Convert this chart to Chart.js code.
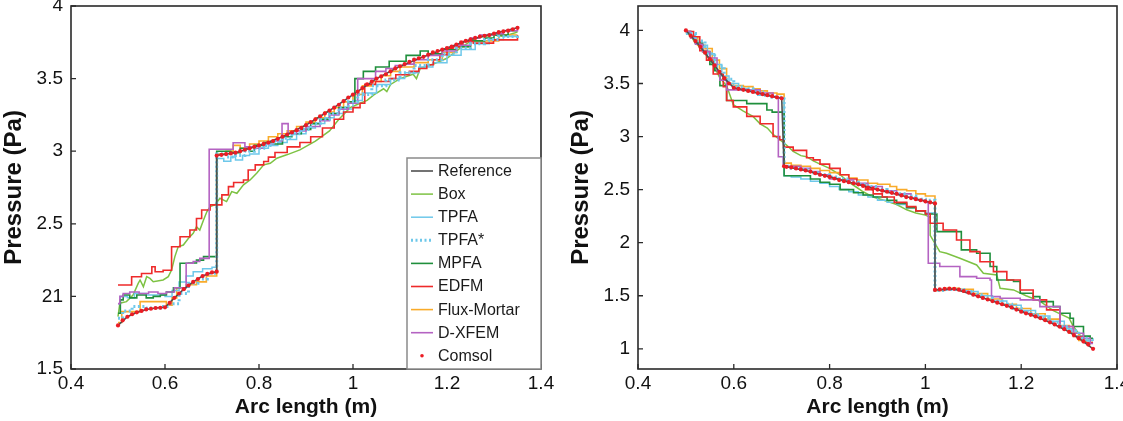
<!DOCTYPE html>
<html><head><meta charset="utf-8">
<script src="https://cdn.jsdelivr.net/npm/chart.js@4.4.1/dist/chart.umd.min.js"></script>
<style>
html,body{margin:0;padding:0;background:#fff;overflow:hidden;}
#wrap{position:relative;width:1123px;height:421px;overflow:hidden;background:#fff;}
#c1{position:absolute;left:0;top:-30px;}
#c2{position:absolute;left:560px;top:-30px;}
</style></head><body>
<div id="wrap"><canvas id="c1" width="560" height="451"></canvas><canvas id="c2" width="600" height="451"></canvas></div>
<script>
// ---------- tick labels ----------
const xTicks = [0.4, 0.6, 0.8, 1, 1.2, 1.4];
const xTickLabels = ['0.4', '0.6', '0.8', '1', '1.2', '1.4'];
const leftYTicks = [1.5, 2, 2.5, 3, 3.5, 4];
const leftYTickLabels = ['1.5', '21', '2.5', '3', '3.5', '4'];
const rightYTicks = [1, 1.5, 2, 2.5, 3, 3.5, 4];
const rightYTickLabels = ['1', '1.5', '2', '2.5', '3', '3.5', '4'];
const seriesNames = ['Reference', 'Box', 'TPFA', 'TPFA*', 'MPFA', 'EDFM', 'Flux-Mortar', 'D-XFEM', 'Comsol'];

// ---------- LEFT panel data ----------
const leftRefX = [0.50,0.52,0.54,0.56,0.58,0.60,0.62,0.64,0.66,0.68,0.70,0.71,0.71,0.75,0.80,0.85,0.90,0.95,1.00,1.05,1.10,1.15,1.20,1.25,1.30,1.35];
const leftRefY = [1.80,1.86,1.89,1.91,1.92,1.925,1.99,2.05,2.10,2.14,2.165,2.17,2.97,2.99,3.04,3.10,3.18,3.28,3.39,3.50,3.585,3.65,3.71,3.77,3.81,3.85];

const leftComsolX = [0.50,0.51,0.52,0.53,0.54,0.55,0.56,0.57,0.58,0.59,0.60,0.61,0.62,0.63,0.64,0.65,0.66,0.67,0.68,0.69,0.70,0.71,
  0.71,0.72,0.73,0.74,0.75,0.76,0.77,0.78,0.79,0.80,0.81,0.82,0.83,0.84,0.85,0.86,0.87,0.88,0.89,0.90,0.91,0.92,0.93,0.94,0.95,0.96,0.97,0.98,0.99,1.00,
  1.01,1.02,1.03,1.04,1.05,1.06,1.07,1.08,1.09,1.10,1.11,1.12,1.13,1.14,1.15,1.16,1.17,1.18,1.19,1.20,1.21,1.22,1.23,1.24,1.25,1.26,1.27,1.28,1.29,1.30,1.31,1.32,1.33,1.34,1.35];
const leftComsolY = [1.80,1.835,1.86,1.877,1.89,1.90,1.91,1.915,1.92,1.922,1.925,1.955,1.99,2.02,2.05,2.075,2.10,2.12,2.14,2.155,2.165,2.17,
  2.97,2.975,2.98,2.985,2.99,3.00,3.01,3.02,3.03,3.04,3.05,3.06,3.07,3.085,3.10,3.115,3.13,3.145,3.16,3.18,3.20,3.22,3.24,3.26,3.28,3.30,3.32,3.345,3.37,3.39,
  3.41,3.435,3.46,3.48,3.50,3.515,3.53,3.55,3.57,3.585,3.60,3.615,3.63,3.64,3.65,3.665,3.68,3.69,3.70,3.71,3.72,3.735,3.75,3.76,3.77,3.78,3.79,3.795,3.80,3.81,3.82,3.825,3.83,3.84,3.85];

const leftBoxX = [0.50,0.504,0.518,0.532,0.543,0.547,0.554,0.561,0.568,0.575,0.596,0.607,0.614,0.621,0.628,0.639,0.65,0.66,0.667,0.674,0.682,0.689,0.696,0.706,0.717,0.731,0.742,0.753,0.767,0.781,0.795,0.81,0.824,0.838,0.859,0.887,0.92,0.95,0.97,0.994,1.015,1.03,1.045,1.065,1.072,1.08,1.1,1.128,1.135,1.143,1.171,1.2,1.228,1.256,1.277,1.30,1.32,1.34,1.35];
const leftBoxY = [1.86,1.953,1.964,2.01,2.09,2.113,2.067,2.136,2.124,2.101,2.113,2.136,2.182,2.274,2.342,2.354,2.40,2.434,2.48,2.457,2.526,2.583,2.618,2.63,2.676,2.653,2.722,2.71,2.768,2.802,2.848,2.906,2.917,2.952,2.975,3.009,3.07,3.14,3.22,3.30,3.33,3.35,3.39,3.43,3.41,3.46,3.50,3.53,3.50,3.57,3.60,3.64,3.71,3.77,3.79,3.80,3.79,3.81,3.82];

const leftEdfmX = [0.50,0.529,0.55,0.572,0.579,0.596,0.614,0.632,0.653,0.667,0.678,0.696,0.721,0.735,0.746,0.767,0.777,0.792,0.81,0.82,0.834,0.86,0.887,0.91,0.935,0.96,0.98,1.0,1.015,1.025,1.048,1.077,1.091,1.12,1.14,1.157,1.171,1.185,1.2,1.213,1.228,1.234,1.256,1.299,1.35];
const leftEdfmY = [2.078,2.135,2.158,2.204,2.17,2.18,2.342,2.411,2.457,2.537,2.595,2.63,2.699,2.756,2.784,2.802,2.871,2.906,2.929,2.959,2.991,3.03,3.06,3.10,3.16,3.22,3.27,3.30,3.33,3.46,3.48,3.50,3.526,3.55,3.57,3.595,3.63,3.664,3.71,3.72,3.733,3.756,3.744,3.767,3.80];

const leftMpfaX = [0.50,0.505,0.511,0.525,0.54,0.56,0.575,0.59,0.603,0.618,0.632,0.65,0.667,0.682,0.71,0.74,0.76,0.78,0.79,0.81,0.83,0.85,0.87,0.89,0.91,0.93,0.95,0.97,0.99,1.004,1.022,1.048,1.077,1.113,1.143,1.16,1.19,1.22,1.25,1.28,1.30,1.33,1.35];
const leftMpfaY = [1.884,1.976,2.01,1.99,2.01,1.99,2.00,2.01,2.03,2.06,2.228,2.23,2.25,2.274,3.00,2.99,3.02,3.00,3.04,3.06,3.05,3.10,3.12,3.15,3.19,3.22,3.26,3.30,3.34,3.50,3.55,3.58,3.62,3.66,3.69,3.67,3.70,3.72,3.76,3.78,3.80,3.83,3.83];

const leftDxfemX = [0.50,0.504,0.511,0.525,0.545,0.565,0.585,0.603,0.62,0.645,0.66,0.674,0.694,0.745,0.77,0.79,0.81,0.83,0.849,0.862,0.88,0.90,0.93,0.95,0.97,0.99,1.01,1.048,1.07,1.09,1.11,1.13,1.16,1.19,1.22,1.25,1.27,1.30,1.32,1.35];
const leftDxfemY = [1.95,2.00,2.02,2.03,2.02,2.03,2.02,2.03,2.06,2.228,2.24,2.262,3.013,3.058,3.03,3.02,3.05,3.07,3.19,3.12,3.14,3.17,3.21,3.25,3.29,3.33,3.50,3.55,3.57,3.59,3.60,3.63,3.66,3.69,3.73,3.78,3.80,3.81,3.83,3.84];

const leftFluxX = [0.50,0.508,0.547,0.603,0.615,0.625,0.645,0.667,0.688,0.71,0.73,0.745,0.76,0.78,0.80,0.82,0.84,0.86,0.88,0.90,0.92,0.94,0.96,0.98,1.00,1.02,1.04,1.06,1.08,1.10,1.13,1.16,1.19,1.22,1.25,1.28,1.31,1.35];
const leftFluxY = [1.82,1.895,1.964,1.94,1.99,2.06,2.08,2.10,2.14,2.98,3.00,3.04,3.02,3.05,3.07,3.10,3.12,3.14,3.17,3.20,3.23,3.27,3.30,3.34,3.39,3.45,3.48,3.52,3.55,3.58,3.61,3.63,3.68,3.72,3.76,3.76,3.80,3.80];

const leftTpfaX = [0.50,0.505,0.52,0.535,0.56,0.58,0.60,0.615,0.63,0.645,0.66,0.68,0.70,0.71,0.725,0.74,0.75,0.765,0.78,0.80,0.82,0.84,0.86,0.88,0.90,0.92,0.94,0.96,0.98,1.00,1.02,1.05,1.08,1.11,1.14,1.17,1.20,1.23,1.26,1.29,1.32,1.35];
const leftTpfaY = [1.95,2.00,1.99,2.02,2.01,2.01,2.00,2.04,2.10,2.14,2.17,2.19,2.20,2.95,2.93,2.96,2.94,2.97,2.98,3.02,3.04,3.06,3.08,3.12,3.16,3.19,3.23,3.26,3.29,3.35,3.40,3.46,3.50,3.54,3.58,3.61,3.66,3.70,3.74,3.77,3.79,3.79];

const leftTpfaStarX = [0.50,0.51,0.53,0.56,0.59,0.61,0.63,0.65,0.67,0.69,0.71,0.73,0.75,0.77,0.79,0.81,0.83,0.85,0.87,0.89,0.91,0.93,0.95,0.97,0.99,1.01,1.04,1.07,1.10,1.13,1.16,1.19,1.22,1.25,1.28,1.31,1.35];
const leftTpfaStarY = [1.85,1.90,1.93,1.92,1.93,1.95,2.02,2.09,2.12,2.16,2.98,2.96,2.97,3.00,3.02,3.04,3.07,3.09,3.12,3.15,3.19,3.22,3.26,3.30,3.34,3.39,3.45,3.49,3.54,3.59,3.63,3.67,3.71,3.74,3.77,3.79,3.80];

// ---------- RIGHT panel data ----------
const rightRefX = [0.50,0.52,0.54,0.56,0.58,0.60,0.62,0.64,0.66,0.68,0.70,0.705,0.75,0.80,0.85,0.90,0.95,1.00,1.02,1.02,1.06,1.10,1.14,1.18,1.22,1.26,1.30,1.32,1.35];
const rightRefY = [4.00,3.90,3.79,3.67,3.55,3.46,3.44,3.42,3.40,3.38,3.36,2.72,2.68,2.62,2.56,2.50,2.445,2.39,2.37,1.555,1.565,1.51,1.45,1.39,1.32,1.25,1.16,1.10,1.00];

const rightComsolX = [0.50,0.51,0.52,0.53,0.54,0.55,0.56,0.57,0.58,0.59,0.60,0.61,0.62,0.63,0.64,0.65,0.66,0.67,0.68,0.69,0.70,
  0.705,0.71,0.72,0.73,0.74,0.75,0.76,0.77,0.78,0.79,0.80,0.81,0.82,0.83,0.84,0.85,0.86,0.87,0.88,0.89,0.90,0.91,0.92,0.93,0.94,0.95,0.96,0.97,0.98,0.99,1.00,1.01,1.02,
  1.02,1.03,1.04,1.05,1.06,1.07,1.08,1.09,1.10,1.11,1.12,1.13,1.14,1.15,1.16,1.17,1.18,1.19,1.20,1.21,1.22,1.23,1.24,1.25,1.26,1.27,1.28,1.29,1.30,1.31,1.32,1.33,1.34,1.35];
const rightComsolY = [4.00,3.95,3.90,3.845,3.79,3.73,3.67,3.61,3.55,3.50,3.46,3.45,3.44,3.43,3.42,3.41,3.40,3.39,3.38,3.37,3.36,
  2.72,2.715,2.71,2.70,2.69,2.68,2.67,2.655,2.64,2.63,2.62,2.605,2.59,2.58,2.57,2.56,2.55,2.535,2.52,2.51,2.50,2.49,2.48,2.47,2.46,2.445,2.43,2.42,2.41,2.40,2.39,2.38,2.37,
  1.555,1.56,1.565,1.567,1.565,1.557,1.545,1.53,1.51,1.495,1.48,1.465,1.45,1.435,1.42,1.405,1.39,1.37,1.35,1.335,1.32,1.305,1.29,1.27,1.25,1.23,1.21,1.185,1.16,1.13,1.10,1.07,1.04,1.00];

const rightBoxX = [0.50,0.51,0.52,0.53,0.545,0.557,0.571,0.585,0.599,0.62,0.64,0.655,0.67,0.682,0.696,0.71,0.724,0.74,0.752,0.766,0.78,0.80,0.822,0.84,0.857,0.87,0.891,0.92,0.94,0.961,0.98,1.0,1.01,1.01,1.03,1.044,1.072,1.107,1.121,1.149,1.156,1.184,1.21,1.239,1.267,1.30,1.309,1.33,1.344];
const rightBoxY = [3.98,3.95,3.88,3.84,3.75,3.68,3.55,3.48,3.30,3.24,3.19,3.12,3.08,3.02,2.97,2.92,2.86,2.82,2.81,2.77,2.74,2.70,2.64,2.57,2.52,2.48,2.43,2.39,2.36,2.31,2.28,2.26,2.24,2.07,1.916,1.90,1.853,1.79,1.712,1.696,1.571,1.555,1.50,1.45,1.36,1.29,1.21,1.085,1.03];

const rightEdfmX = [0.50,0.516,0.529,0.543,0.557,0.578,0.585,0.599,0.627,0.655,0.682,0.696,0.704,0.724,0.752,0.766,0.78,0.80,0.822,0.84,0.857,0.875,0.891,0.91,0.935,0.961,0.98,1.0,1.01,1.037,1.065,1.093,1.114,1.142,1.17,1.198,1.225,1.253,1.281,1.309,1.33,1.35];
const rightEdfmY = [3.99,3.94,3.81,3.72,3.59,3.47,3.34,3.28,3.19,3.12,3.00,2.97,2.90,2.87,2.80,2.78,2.74,2.70,2.64,2.60,2.55,2.50,2.46,2.43,2.38,2.34,2.30,2.27,2.183,2.12,2.026,1.916,1.821,1.727,1.649,1.555,1.461,1.367,1.21,1.116,1.06,1.06];

const rightMpfaX = [0.50,0.51,0.52,0.535,0.55,0.56,0.571,0.585,0.627,0.669,0.68,0.705,0.76,0.78,0.80,0.822,0.85,0.87,0.891,0.92,0.94,0.961,0.98,1.0,1.024,1.075,1.107,1.135,1.149,1.184,1.198,1.225,1.239,1.267,1.281,1.302,1.309,1.33,1.344,1.35];
const rightMpfaY = [3.99,3.94,3.88,3.80,3.68,3.62,3.48,3.34,3.31,3.25,3.23,2.63,2.60,2.57,2.55,2.50,2.47,2.45,2.43,2.40,2.37,2.33,2.30,2.27,2.104,1.932,1.90,1.775,1.649,1.634,1.524,1.492,1.445,1.398,1.335,1.288,1.21,1.12,1.10,1.10];

const rightTpfaX = [0.50,0.51,0.52,0.53,0.545,0.56,0.575,0.59,0.61,0.63,0.65,0.67,0.69,0.705,0.72,0.74,0.76,0.78,0.80,0.82,0.84,0.86,0.88,0.90,0.92,0.94,0.96,0.98,1.00,1.02,1.05,1.08,1.11,1.14,1.17,1.20,1.23,1.26,1.29,1.31,1.33,1.35];
const rightTpfaY = [3.98,3.95,3.89,3.86,3.78,3.68,3.57,3.50,3.45,3.43,3.39,3.38,3.36,2.63,2.62,2.60,2.58,2.56,2.53,2.50,2.48,2.45,2.43,2.40,2.38,2.36,2.33,2.30,2.28,1.56,1.56,1.54,1.50,1.45,1.41,1.36,1.31,1.26,1.19,1.12,1.08,1.10];

const rightTpfaStarX = [0.50,0.52,0.54,0.56,0.58,0.60,0.62,0.64,0.66,0.68,0.705,0.72,0.74,0.76,0.78,0.80,0.82,0.84,0.86,0.88,0.90,0.92,0.94,0.96,0.98,1.00,1.02,1.04,1.06,1.08,1.10,1.12,1.14,1.16,1.18,1.20,1.22,1.24,1.26,1.28,1.30,1.32,1.34,1.35];
const rightTpfaStarY = [3.97,3.90,3.78,3.66,3.54,3.47,3.45,3.42,3.39,3.37,2.72,2.70,2.69,2.66,2.64,2.62,2.60,2.57,2.55,2.53,2.50,2.48,2.46,2.44,2.41,2.40,1.55,1.56,1.56,1.54,1.51,1.48,1.45,1.42,1.38,1.35,1.32,1.29,1.25,1.21,1.17,1.10,1.08,1.08];

const rightFluxX = [0.50,0.51,0.525,0.54,0.555,0.57,0.585,0.599,0.62,0.64,0.655,0.67,0.69,0.705,0.72,0.74,0.76,0.78,0.80,0.822,0.84,0.857,0.88,0.90,0.926,0.94,0.961,0.98,1.00,1.02,1.04,1.07,1.10,1.13,1.16,1.19,1.22,1.25,1.28,1.30,1.32,1.35];
const rightFluxY = [3.99,3.93,3.86,3.83,3.72,3.64,3.50,3.48,3.47,3.45,3.43,3.41,3.40,2.75,2.73,2.72,2.70,2.68,2.66,2.64,2.61,2.59,2.56,2.55,2.53,2.50,2.49,2.46,2.44,1.55,1.57,1.56,1.52,1.47,1.42,1.38,1.33,1.28,1.22,1.15,1.08,1.08];

const rightDxfemX = [0.50,0.51,0.52,0.535,0.55,0.565,0.571,0.585,0.655,0.682,0.693,0.703,0.74,0.76,0.78,0.80,0.82,0.85,0.88,0.91,0.94,0.97,0.982,1.0,1.006,1.03,1.072,1.107,1.135,1.138,1.156,1.198,1.239,1.281,1.309,1.33,1.344,1.35];
const rightDxfemY = [3.99,3.93,3.87,3.80,3.74,3.62,3.53,3.44,3.41,3.37,2.81,2.72,2.70,2.67,2.64,2.60,2.59,2.56,2.53,2.49,2.46,2.42,2.40,2.38,1.806,1.775,1.68,1.665,1.649,1.492,1.477,1.461,1.398,1.21,1.147,1.10,1.05,1.05];

// ---------- styles ----------
const FONT = '"Liberation Sans", Arial, Helvetica, sans-serif';
const C = {ref:'#505050', box:'#7dc243', tpfa:'#6ec8ea', mpfa:'#1f8f3c', edfm:'#ee2a2a', flux:'#f9ab2a', dx:'#b463c2', comsol:'#ec1c24'};

function pts(xs, ys){ return xs.map((x,i)=>({x:x, y:ys[i]})); }

function makeDatasets(d){
  return [
    {label:'Reference', data:pts(d.refX,d.refY), borderColor:C.ref, borderWidth:1.6, pointRadius:0, order:1},
    {label:'Box', data:pts(d.boxX,d.boxY), borderColor:C.box, borderWidth:1.5, pointRadius:0, order:8},
    {label:'TPFA', data:pts(d.tpfaX,d.tpfaY), borderColor:C.tpfa, borderWidth:1.5, pointRadius:0, stepped:'before', order:6},
    {label:'TPFA*', data:pts(d.tpfaStarX,d.tpfaStarY), borderColor:C.tpfa, borderWidth:3, borderDash:[2,2.5], pointRadius:0, stepped:'before', order:2},
    {label:'MPFA', data:pts(d.mpfaX,d.mpfaY), borderColor:C.mpfa, borderWidth:1.6, pointRadius:0, stepped:'before', order:5},
    {label:'EDFM', data:pts(d.edfmX,d.edfmY), borderColor:C.edfm, borderWidth:1.6, pointRadius:0, stepped:'before', order:4},
    {label:'Flux-Mortar', data:pts(d.fluxX,d.fluxY), borderColor:C.flux, borderWidth:1.6, pointRadius:0, stepped:'before', order:7},
    {label:'D-XFEM', data:pts(d.dxX,d.dxY), borderColor:C.dx, borderWidth:1.6, pointRadius:0, stepped:'before', order:3},
    {label:'Comsol', data:pts(d.comX,d.comY), showLine:false, borderColor:C.comsol, backgroundColor:C.comsol, pointRadius:2.1, pointBorderWidth:0, pointBackgroundColor:C.comsol, order:0}
  ];
}

const framePlugin = {
  id:'frame',
  afterDraw(chart){
    const {ctx, chartArea:{left,right,top,bottom}, scales:{x,y}} = chart;
    ctx.save();
    ctx.strokeStyle = '#2a2a2a';
    ctx.lineWidth = 1.6;
    ctx.strokeRect(left, top, right-left, bottom-top);
    ctx.lineWidth = 1.3;
    ctx.beginPath();
    x.ticks.forEach(t=>{ const px = x.getPixelForValue(t.value); ctx.moveTo(px,bottom); ctx.lineTo(px,bottom-5); });
    y.ticks.forEach(t=>{ const py = y.getPixelForValue(t.value); ctx.moveTo(left,py); ctx.lineTo(left+5,py); });
    ctx.stroke();
    ctx.restore();
  }
};

const legendPlugin = {
  id:'boxLegend',
  afterDraw(chart){
    const {ctx, chartArea:{right,top,bottom}} = chart;
    const w = 134, x0 = right - w, y0 = top + 152;
    ctx.save();
    ctx.fillStyle = '#fff';
    ctx.fillRect(x0, y0, w, bottom - y0);
    ctx.strokeStyle = '#8a8a8a';
    ctx.lineWidth = 1.5;
    ctx.strokeRect(x0, y0, w, bottom - y0);
    ctx.font = '16px ' + FONT;
    ctx.textBaseline = 'middle';
    ctx.textAlign = 'left';
    seriesNames.forEach((name, i)=>{
      const ds = chart.data.datasets.find(d=>d.label===name);
      const yy = top + 165 + i*23.1;
      if (ds.showLine === false){
        ctx.fillStyle = ds.pointBackgroundColor;
        ctx.beginPath(); ctx.arc(x0+15, yy, 1.8, 0, Math.PI*2); ctx.fill();
      } else {
        ctx.strokeStyle = ds.borderColor;
        ctx.lineWidth = ds.borderWidth;
        ctx.setLineDash(ds.borderDash || []);
        ctx.beginPath(); ctx.moveTo(x0+4, yy); ctx.lineTo(x0+26, yy); ctx.stroke();
        ctx.setLineDash([]);
      }
      ctx.fillStyle = '#1a1a1a';
      ctx.fillText(name, x0+31, yy+0.5);
    });
    ctx.restore();
  }
};

function makeChart(canvasId, d, yMin, yMax, yTicks, yLabels, yWidth, padRight, yTitlePad, withLegend){
  return new Chart(document.getElementById(canvasId), {
    type:'line',
    data:{datasets:makeDatasets(d)},
    options:{
      responsive:false, animation:false, devicePixelRatio:1,
      layout:{padding:{top:36, right:padRight, bottom:0, left:0}},
      plugins:{legend:{display:false}, tooltip:{enabled:false}},
      scales:{
        x:{type:'linear', min:0.4, max:1.4,
          afterBuildTicks:s=>{ s.ticks = xTicks.map(v=>({value:v})); },
          ticks:{callback:(v,i)=>xTickLabels[i], autoSkip:false, maxRotation:0, padding:3, color:'#111', font:{family:FONT, size:19}},
          grid:{display:false, drawTicks:false}, border:{display:false},
          title:{display:true, text:'Arc length (m)', color:'#111', font:{family:FONT, size:21, weight:'bold'}, padding:{top:0, bottom:1}},
          afterFit:s=>{ s.height = 52; }
        },
        y:{type:'linear', min:yMin, max:yMax,
          afterBuildTicks:s=>{ s.ticks = yTicks.map(v=>({value:v})); },
          ticks:{callback:(v,i)=>yLabels[i], autoSkip:false, padding:8, color:'#111', font:{family:FONT, size:19}},
          grid:{display:false, drawTicks:false}, border:{display:false},
          title:{display:true, text:'Pressure (Pa)', color:'#111', font:{family:FONT, size:24, weight:'bold'}, padding:{top:yTitlePad, bottom:0}},
          afterFit:s=>{ s.width = yWidth; }
        }
      }
    },
    plugins: withLegend ? [framePlugin, legendPlugin] : [framePlugin]
  });
}

makeChart('c1', {
  refX:leftRefX, refY:leftRefY, comX:leftComsolX, comY:leftComsolY, boxX:leftBoxX, boxY:leftBoxY,
  edfmX:leftEdfmX, edfmY:leftEdfmY, mpfaX:leftMpfaX, mpfaY:leftMpfaY, dxX:leftDxfemX, dxY:leftDxfemY,
  fluxX:leftFluxX, fluxY:leftFluxY, tpfaX:leftTpfaX, tpfaY:leftTpfaY, tpfaStarX:leftTpfaStarX, tpfaStarY:leftTpfaStarY
}, 1.5, 4, leftYTicks, leftYTickLabels, 71, 19, 0, true);

makeChart('c2', {
  refX:rightRefX, refY:rightRefY, comX:rightComsolX, comY:rightComsolY, boxX:rightBoxX, boxY:rightBoxY,
  edfmX:rightEdfmX, edfmY:rightEdfmY, mpfaX:rightMpfaX, mpfaY:rightMpfaY, dxX:rightDxfemX, dxY:rightDxfemY,
  fluxX:rightFluxX, fluxY:rightFluxY, tpfaX:rightTpfaX, tpfaY:rightTpfaY, tpfaStarX:rightTpfaStarX, tpfaStarY:rightTpfaStarY
}, 0.81, 4.23, rightYTicks, rightYTickLabels, 78, 43, 7, false);
</script>
</body></html>
